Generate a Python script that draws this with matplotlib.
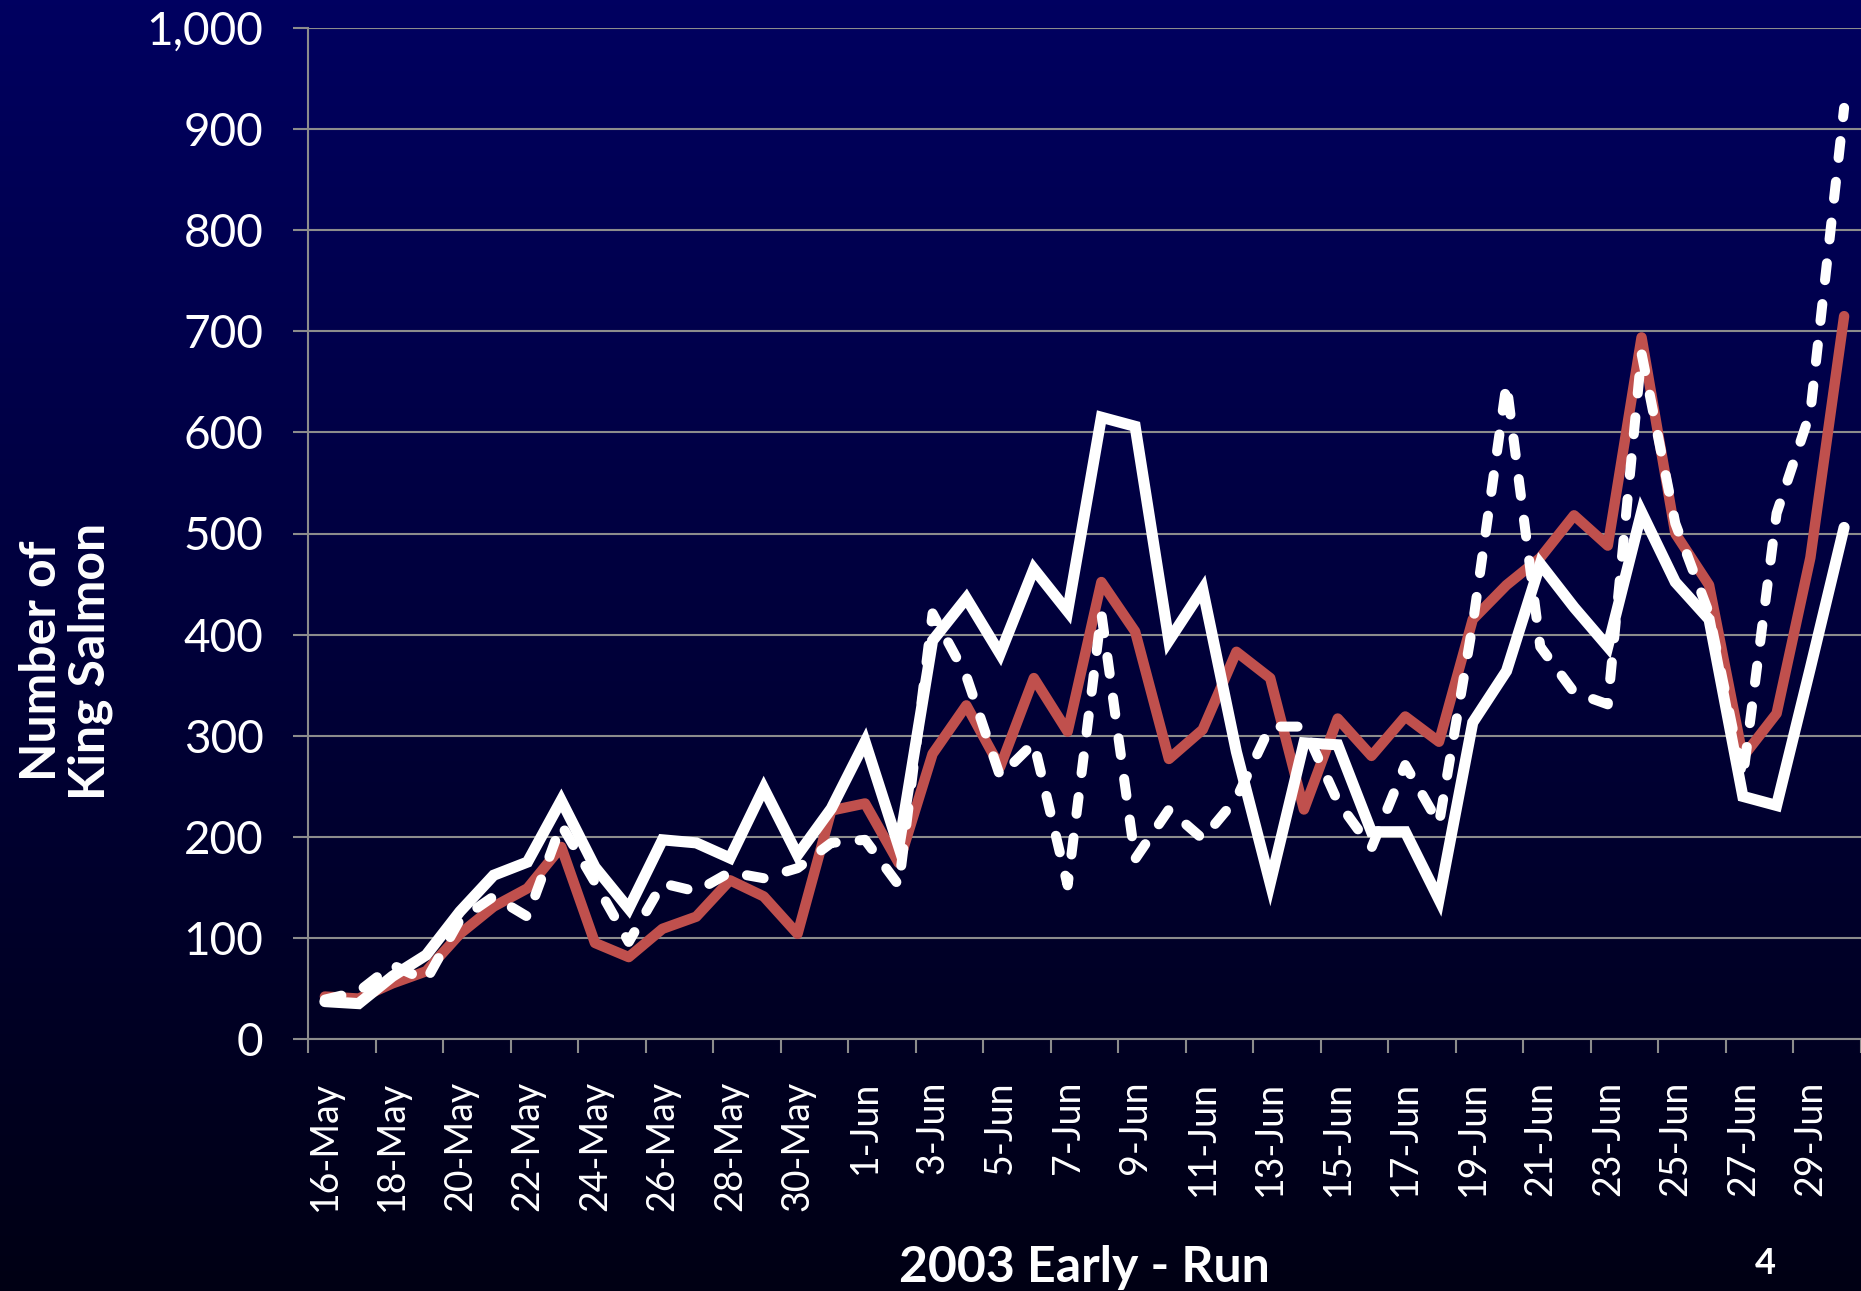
"""
King salmon daily counts, 2003 early run (16-May to 30-Jun).
Three series: solid white, dashed white, red.
"""
import matplotlib
matplotlib.use("Agg")
import matplotlib.pyplot as plt
import numpy as np
import pandas as pd
from matplotlib.colors import LinearSegmentedColormap
from matplotlib.ticker import FixedLocator, FuncFormatter

plt.rcParams["font.family"] = ["Lato", "DejaVu Sans"]

# Categories: one per day
dates = pd.date_range("2003-05-16", "2003-06-30", freq="D")
day_labels = [f"{d.day}-{d.strftime('%b')}" for d in dates]

# Series values
white_solid = [37, 35, 62, 83, 126, 162, 175, 236, 170, 129, 197, 194, 179, 248, 182, 228,
               294, 190, 394, 436, 381, 465, 423, 615, 606, 394, 445, 284, 154, 293, 291, 205,
               205, 138, 313, 364, 470, 427, 388, 521, 452, 415, 240, 231, 367, 506]
white_dashed = [39, 47, 73, 58, 118, 141, 121, 212, 155, 96, 154, 146, 165, 159, 169, 194,
                197, 152, 421, 359, 260, 293, 152, 421, 178, 227, 198, 238, 309, 309, 235, 189,
                271, 213, 410, 648, 388, 343, 331, 678, 510, 421, 258, 520, 620, 921]
red_series = [42, 40, 55, 67, 104, 131, 149, 190, 95, 81, 109, 121, 157, 141, 104, 226,
              233, 174, 282, 330, 269, 357, 304, 452, 403, 277, 306, 383, 357, 227, 317, 280,
              319, 294, 415, 449, 476, 518, 488, 694, 500, 449, 279, 322, 476, 715]

y_ticks = list(range(0, 1001, 100))

W, H = 1861, 1291
fig = plt.figure(figsize=(W / 100, H / 100), dpi=100)

# navy -> near black background
bg = fig.add_axes([0, 0, 1, 1])
cmap = LinearSegmentedColormap.from_list("bg", ["#000060", "#000014"])
bg.imshow(np.linspace(0, 1, 256).reshape(-1, 1), aspect="auto", cmap=cmap,
          extent=[0, 1, 0, 1])
bg.set_axis_off()

left, right, top, bottom = 308, 1861, 28, 1039
ax = fig.add_axes([left / W, 1 - bottom / H, (right - left) / W, (bottom - top) / H])
ax.set_facecolor("none")

x = np.arange(len(dates))
ax.plot(x, red_series, color="#c0504d", linewidth=7.5, solid_joinstyle="round",
        solid_capstyle="round", zorder=3)
ax.plot(x, white_solid, color="white", linewidth=8.0, solid_joinstyle="miter",
        solid_capstyle="round", zorder=4)
ax.plot(x, white_dashed, color="white", linewidth=7.2, dashes=(1.7, 2.4),
        dash_capstyle="round", dash_joinstyle="round", zorder=5)

ax.set_xlim(-0.5, len(dates) - 0.5)
ax.set_ylim(0, 1000)

ax.set_yticks(y_ticks)
ax.yaxis.set_major_formatter(FuncFormatter(lambda v, p: f"{int(v):,}"))
ax.tick_params(axis="y", colors="#8c8c8c", labelcolor="white", labelsize=33,
               length=11, width=1.5, pad=21)
ax.grid(axis="y", color="#8c8c8c", linewidth=1.5)
ax.set_axisbelow(True)

# tick marks between categories every 2 days, labels on category centres
ax.xaxis.set_major_locator(FixedLocator(np.arange(-0.5, len(dates), 2)))
ax.xaxis.set_major_formatter(FuncFormatter(lambda v, p: ""))
ax.xaxis.set_minor_locator(FixedLocator(x[::2]))
ax.xaxis.set_minor_formatter(FuncFormatter(lambda v, p: day_labels[int(round(v))]))
ax.tick_params(axis="x", which="major", colors="#8c8c8c", length=10, width=1.5)
ax.tick_params(axis="x", which="minor", length=0, labelcolor="white", labelsize=27,
               labelrotation=90, pad=30)

for side in ["top", "right"]:
    ax.spines[side].set_visible(False)
for side in ["left", "bottom"]:
    ax.spines[side].set_color("#8c8c8c")
    ax.spines[side].set_linewidth(1.5)

fig.text(66 / W, 1 - 661 / H, "Number of\nKing Salmon", rotation=90, ha="center",
         va="center", multialignment="center", color="white", fontsize=36,
         fontweight="bold", linespacing=1.1)
fig.text(1084 / W, 1 - 1268 / H, "2003 Early - Run", ha="center", va="center",
         color="white", fontsize=36, fontweight="bold")
fig.text(1765 / W, 1 - 1263 / H, "4", ha="center", va="center", color="white",
         fontsize=26, fontweight="bold")

fig.savefig("out.png", dpi=100)
plt.close(fig)
print("Saved out.png")
